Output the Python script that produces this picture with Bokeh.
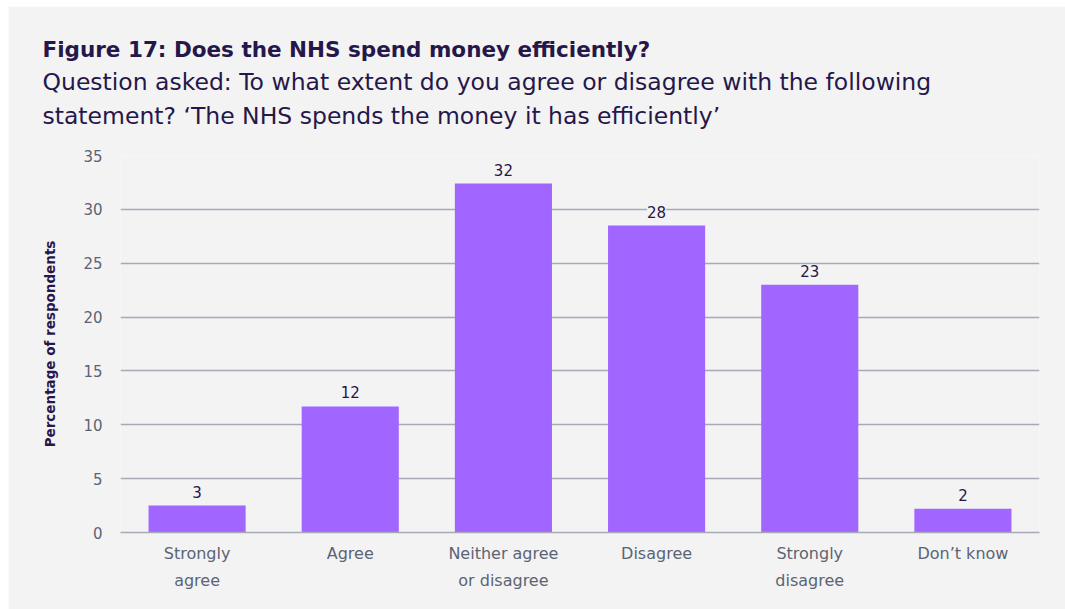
from bokeh.plotting import figure
from bokeh.models import ColumnDataSource, LabelSet, Title, Range1d, FactorRange
from bokeh.core.properties import value
from bokeh.embed import file_html
from bokeh.resources import INLINE

# ---- data ----
tick_line_1 = ["Strongly", "Agree", "Neither agree", "Disagree", "Strongly", "Don’t know"]
tick_line_2 = ["agree", " ", "or disagree", "  ", "disagree", "   "]
values = [2.5, 11.7, 32.4, 28.5, 23.0, 2.2]
value_labels = ["3", "12", "32", "28", "23", "2"]
y_ticks = [0, 5, 10, 15, 20, 25, 30, 35]

title_text = "Figure 17: Does the NHS spend money efficiently?"
subtitle_1 = "Question asked: To what extent do you agree or disagree with the following"
subtitle_2 = "statement? ‘The NHS spends the money it has efficiently’"
y_title = "Percentage of respondents"

BG = "#f3f3f3"
NAVY = "#26174a"
GREY_TXT = "#5b6473"
GRID = "#a7aab6"
BAR = "#a066ff"
FONT = "DejaVu Sans"

factors = list(zip(tick_line_2, tick_line_1))
src = ColumnDataSource(dict(cat=factors, val=values, lab=value_labels))

x_range = FactorRange(*factors, group_padding=0, factor_padding=0, range_padding=0)
p = figure(x_range=x_range, y_range=Range1d(0, 35), width=1057, height=603,
           output_backend="svg", toolbar_location=None,
           background_fill_color=BG, border_fill_color=BG,
           min_border_left=112, min_border_right=26, min_border_bottom=77, min_border_top=149)
p.margin = (6, 0, 0, 8)
p.outline_line_color = None

p.vbar(x="cat", top="val", width=0.634, source=src, color=BAR, line_color=None)

p.add_layout(LabelSet(x="cat", y="val", text="lab", source=src, text_align="center",
                      text_baseline="middle", y_offset=14, text_font=value(FONT),
                      text_font_size="15px", text_color=NAVY, background_fill_color=BG,
                      level="overlay"))

# axes
ax = p.xaxis[0]
ax.major_label_text_font = FONT
ax.major_label_text_font_size = "16px"
ax.major_label_text_color = GREY_TXT
ax.major_label_text_line_height = 0.8
ax.group_text_font = FONT
ax.group_text_font_size = "16px"
ax.group_text_font_style = "normal"
ax.group_text_color = GREY_TXT
ax.group_text_line_height = 0.8
ax.separator_line_color = None
ax.major_tick_line_color = None
ax.minor_tick_line_color = None
ax.axis_line_color = GRID
ax.axis_line_width = 1.5
ax.major_label_standoff = 5
p.xgrid.grid_line_color = None

p.yaxis.ticker = y_ticks
p.yaxis.major_label_text_font = FONT
p.yaxis.major_label_text_font_size = "15px"
p.yaxis.major_label_text_color = GREY_TXT
p.yaxis.major_tick_line_color = None
p.yaxis.minor_tick_line_color = None
p.yaxis.axis_line_color = None
p.yaxis.major_label_standoff = 12
p.yaxis.axis_label = y_title
p.yaxis.axis_label_text_font = FONT
p.yaxis.axis_label_text_font_size = "13.5px"
p.yaxis.axis_label_text_font_style = "bold"
p.yaxis.axis_label_text_color = NAVY
p.yaxis.axis_label_standoff = 22
p.ygrid.grid_line_color = GRID
p.ygrid.grid_line_width = 1.5
p.ygrid.ticker = y_ticks

# titles (added bottom-up); first one is an empty spacer
p.add_layout(Title(text=" ", text_font=FONT, text_font_size="18px", standoff=0), "above")
for txt, style, size, std in [(subtitle_2, "normal", "23.5px", 5), (subtitle_1, "normal", "23.5px", 4),
                              (title_text, "bold", "21.5px", 3)]:
    p.add_layout(Title(text=txt, text_font=FONT, text_font_size=size, text_font_style=style,
                       text_color=NAVY, align="left", offset=-78, standoff=std), "above")

open("out.html", "w").write(file_html(p, INLINE))
